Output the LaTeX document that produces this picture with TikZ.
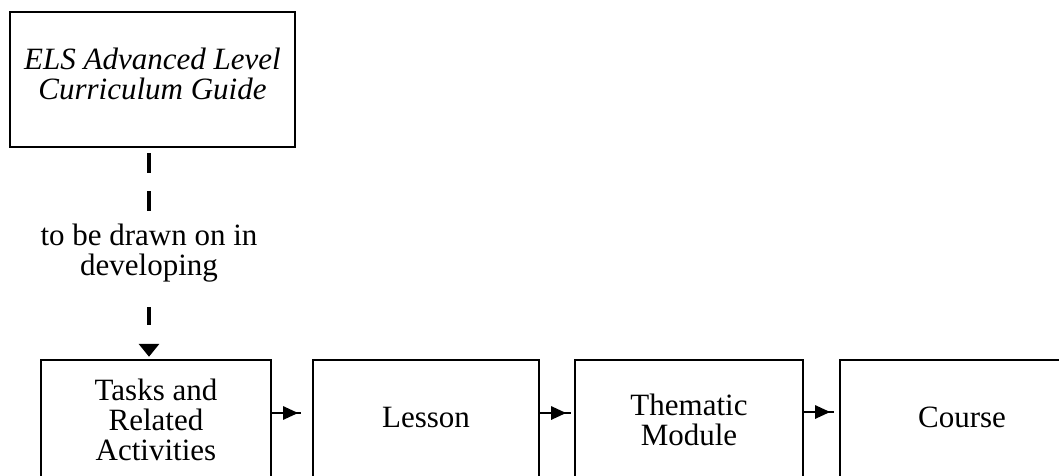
\documentclass[tikz,border=0pt]{standalone}
\usepackage{fontspec}
\setmainfont{Liberation Serif}
\usetikzlibrary{arrows.meta,decorations.markings}
\begin{document}
\begin{tikzpicture}[x=1pt,y=-1pt,
  box/.style={draw,line width=2.4pt,inner sep=0pt,align=center,
    font=\fontsize{31}{30}\selectfont},
  guide/.style={line width=4.5pt},
  flow/.style={line width=2.6pt,postaction={decorate},
    decoration={markings,
      mark=at position 26pt with {\arrow{Triangle[length=15pt,width=13pt]}}}}
]
\useasboundingbox (0,0) rectangle (1059,476);
\clip (0,0) rectangle (1059,476);

% source document
\node[box,minimum width=285pt,minimum height=135pt,text depth=12pt,
  font=\fontsize{31}{29.5}\selectfont\itshape] (guide) at (152.5,79.5)
  {ELS Advanced Level\\Curriculum Guide};

% label on the dashed link
\node[font=\fontsize{31}{29.5}\selectfont,align=center,inner sep=0pt] (lab)
  at (149,253) {to be drawn on in\\developing};

% sequence of units
\node[box,minimum width=230pt,minimum height=120pt] (b1) at (156,420)
  {Tasks and\\Related\\Activities};
\node[box,minimum width=226pt,minimum height=120pt,text depth=6pt] (b2)
  at (426,420) {Lesson};
\node[box,minimum width=228pt,minimum height=120pt] (b3) at (689,420)
  {Thematic\\Module};
\node[box,minimum width=244pt,minimum height=120pt,text depth=6pt] (b4)
  at (962,420) {Course};

% dashed link from the guide to the tasks
\draw[guide,dash pattern=on 20pt off 18pt,dash phase=33pt]
  (lab |- guide.south) -- (lab.north);
\draw[guide,dash pattern=on 18pt off 25pt,dash phase=18pt,
  -{Triangle[length=13pt,width=20pt]},shorten >=2pt]
  (lab.south) -- (lab |- b1.north);

% arrows between units
\draw[flow,shorten >=11pt] ([yshift=7pt]b1.east) -- ([yshift=7pt]b2.west);
\draw[flow,shorten >=3pt] ([yshift=7pt]b2.east) -- ([yshift=7pt]b3.west);
\draw[flow,shorten >=5pt] ([yshift=8pt]b3.east) -- ([yshift=8pt]b4.west);
\end{tikzpicture}
\end{document}
